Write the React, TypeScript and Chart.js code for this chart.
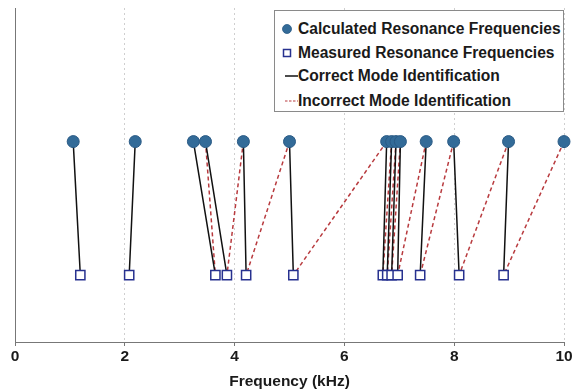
import React, { useEffect, useRef } from "react";
import { Chart, registerables } from "chart.js";

Chart.register(...registerables);

// Resonance frequencies in kHz
const calculatedKHz = [1.06, 2.19, 3.25, 3.47, 4.16, 5.0, 6.77, 6.86, 6.94, 7.02, 7.49, 7.99, 8.99, 10.0];
const measuredKHz = [1.19, 2.08, 3.65, 3.86, 4.21, 5.07, 6.7, 6.78, 6.86, 6.97, 7.38, 8.09, 8.9];

// For each calculated mode: index of the measured mode it is paired with
const correctMeasuredIndex: (number | null)[] = [0, 1, 2, 3, 4, 5, 6, 7, 8, 9, 10, 11, 12, null];
const incorrectMeasuredIndex: (number | null)[] = [null, null, null, 2, 3, 4, 5, 6, 7, 8, 9, 10, 11, 12];

const xTicks = [0, 2, 4, 6, 8, 10];

const legendLabels = [
  "Calculated Resonance Frequencies",
  "Measured Resonance Frequencies",
  "Correct Mode Identification",
  "Incorrect Mode Identification",
];

// vertical rows on the (hidden) y axis
const CALC_ROW = 1.5;
const MEAS_ROW = 0.5;

const FONT = "'Liberation Sans', Arial, Helvetica, sans-serif";
const CALC_COLOR = "#336b98";
const MEAS_COLOR = "#27318f";
const WRONG_COLOR = "#b83a3e";

function links(matches: (number | null)[]) {
  const pts: { x: number; y: number | null }[] = [];
  matches.forEach((m, i) => {
    if (m === null) return;
    pts.push({ x: calculatedKHz[i], y: CALC_ROW });
    pts.push({ x: measuredKHz[m], y: MEAS_ROW });
    pts.push({ x: measuredKHz[m], y: null });
  });
  return pts;
}

function LegendBox() {
  const rowTop = [8, 32, 54.5, 80];
  return (
    <div
      style={{
        position: "absolute",
        left: 274,
        top: 10,
        width: 288,
        height: 100,
        border: "1px solid #8a8a8a",
        background: "#fff",
        fontFamily: FONT,
        fontSize: 15.6,
        fontWeight: "bold",
        color: "#1a1a1a",
      }}
    >
      {legendLabels.map((label, i) => (
        <div key={label} style={{ position: "absolute", left: 0, top: rowTop[i], height: 20, width: 288 }}>
          <svg width={24} height={20} style={{ position: "absolute", left: 0, top: 0 }}>
            {i === 0 && <circle cx={12} cy={10} r={4.5} fill={CALC_COLOR} stroke="#2a5a85" strokeWidth={0.8} />}
            {i === 1 && <rect x={8.5} y={6.5} width={7} height={7} fill="#fff" stroke={MEAS_COLOR} strokeWidth={1.5} />}
            {i === 2 && <line x1={10} y1={10} x2={23} y2={10} stroke="#111" strokeWidth={1.5} />}
            {i === 3 && (
              <line x1={10} y1={10} x2={23} y2={10} stroke={WRONG_COLOR} strokeWidth={1.2} strokeDasharray="2.5 1.5" />
            )}
          </svg>
          <span style={{ position: "absolute", left: 23, top: 0, lineHeight: "20px", whiteSpace: "nowrap" }}>{label}</span>
        </div>
      ))}
    </div>
  );
}

export default function App() {
  const canvasRef = useRef<HTMLCanvasElement | null>(null);

  useEffect(() => {
    const canvas = canvasRef.current;
    if (!canvas) return;
    const chart = new Chart(canvas, {
      type: "line",
      data: {
        datasets: [
          {
            label: legendLabels[0],
            data: calculatedKHz.map((x) => ({ x, y: CALC_ROW })),
            showLine: false,
            pointStyle: "circle",
            pointRadius: 6,
            pointBackgroundColor: CALC_COLOR,
            pointBorderColor: "#2a5a85",
            pointBorderWidth: 1,
            clip: false,
          },
          {
            label: legendLabels[1],
            data: measuredKHz.map((x) => ({ x, y: MEAS_ROW })),
            showLine: false,
            pointStyle: "rect",
            pointRadius: 6.5,
            pointBackgroundColor: "#fff",
            pointBorderColor: MEAS_COLOR,
            pointBorderWidth: 1.5,
            clip: false,
          },
          {
            label: legendLabels[2],
            data: links(correctMeasuredIndex),
            borderColor: "#111",
            borderWidth: 1.5,
            pointRadius: 0,
            spanGaps: false,
            clip: false,
          },
          {
            label: legendLabels[3],
            data: links(incorrectMeasuredIndex),
            borderColor: WRONG_COLOR,
            borderWidth: 1.5,
            borderDash: [4, 3],
            pointRadius: 0,
            spanGaps: false,
            clip: false,
          },
        ],
      },
      options: {
        animation: false,
        responsive: false,
        devicePixelRatio: 1,
        layout: { padding: { top: 8, right: 10, left: 0, bottom: 0 } },
        plugins: {
          legend: { display: false },
          tooltip: { enabled: false },
        },
        scales: {
          x: {
            type: "linear",
            min: 0,
            max: 10,
            afterBuildTicks: (scale: any) => {
              scale.ticks = xTicks.map((value) => ({ value }));
            },
            afterFit: (scale: any) => {
              scale.height = 49;
            },
            grid: {
              color: "#cfcfcf",
              lineWidth: 1,
              tickLength: 4,
              tickColor: "#777",
              tickBorderDash: [],
            },
            border: { display: true, color: "#777", width: 1, dash: [2, 3] },
            ticks: {
              color: "#1a1a1a",
              padding: 1,
              font: { family: FONT, size: 15.5, weight: "bold" },
              maxRotation: 0,
            },
            title: {
              display: true,
              text: "Frequency (kHz)",
              color: "#1a1a1a",
              font: { family: FONT, size: 15.5, weight: "bold" },
              padding: { top: 0, bottom: 0 },
            },
          },
          y: {
            type: "linear",
            min: 0,
            max: 2.5,
            afterFit: (scale: any) => {
              scale.width = 15;
            },
            grid: { display: false },
            border: { display: true, color: "#777", width: 1 },
            ticks: { display: false },
          },
        },
      },
    });
    return () => chart.destroy();
  }, []);

  return (
    <div style={{ position: "absolute", left: 0, top: 0, width: 574, height: 391, background: "#fff" }}>
      <canvas ref={canvasRef} width={574} height={391} style={{ width: 574, height: 391, display: "block" }} />
      <LegendBox />
    </div>
  );
}
